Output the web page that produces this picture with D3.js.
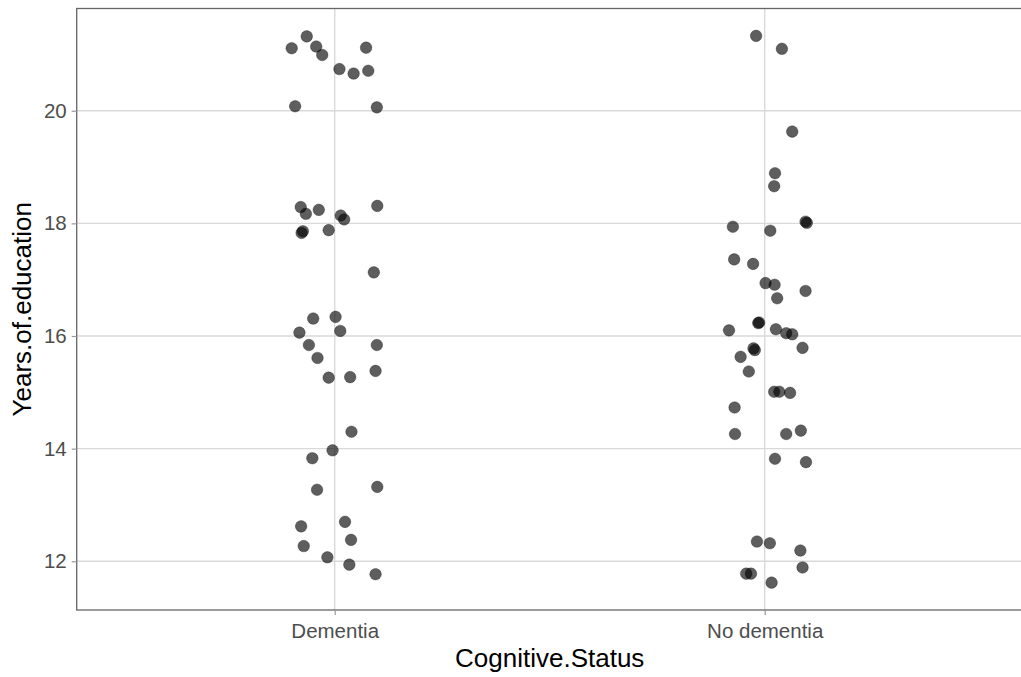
<!DOCTYPE html>
<html>
<head>
<meta charset="utf-8">
<script src="https://cdn.jsdelivr.net/npm/d3@7"></script>
<style>
  body { margin: 0; background: #fff; }
  svg { display: block; font-family: "Liberation Sans", Arial, sans-serif; }
</style>
</head>
<body>
<div id="chart"></div>
<script>
const categories = ["Dementia", "No dementia"];

// years of education as plotted (already jittered), and horizontal jitter in category units
const dementiaYears = [
  21.11, 21.32, 21.14, 20.99, 21.12, 20.74, 20.66, 20.71, 20.08, 20.06,
  18.29, 18.17, 18.24, 18.14, 18.07, 17.83, 17.86, 17.88, 18.31, 17.13,
  16.31, 16.34, 16.06, 16.09, 15.84, 15.84, 15.61, 15.38, 15.26, 15.27,
  14.30, 13.97, 13.83, 13.27, 13.32, 12.62, 12.70, 12.38, 12.27, 12.07,
  11.94, 11.77
];
const dementiaJitter = [
  -0.100, -0.065, -0.043, -0.029, 0.073, 0.011, 0.044, 0.078, -0.092, 0.098,
  -0.079, -0.067, -0.037, 0.014, 0.022, -0.077, -0.074, -0.014, 0.099, 0.091,
  -0.050, 0.002, -0.082, 0.013, -0.060, 0.098, -0.040, 0.095, -0.014, 0.036,
  0.039, -0.005, -0.052, -0.041, 0.099, -0.078, 0.024, 0.038, -0.072, -0.017,
  0.034, 0.095
];
const noDementiaYears = [
  21.33, 21.10, 19.63, 18.89, 18.66, 18.03, 18.01, 17.94, 17.87, 17.36,
  17.28, 16.94, 16.91, 16.80, 16.67, 16.23, 16.24, 16.10, 16.12, 16.05,
  16.03, 15.75, 15.78, 15.63, 15.79, 15.37, 15.01, 15.01, 14.99, 14.73,
  14.26, 14.26, 14.32, 13.82, 13.76, 12.35, 12.32, 12.19, 11.89, 11.78,
  11.78, 11.62
];
const noDementiaJitter = [
  -0.020, 0.040, 0.064, 0.024, 0.022, 0.095, 0.098, -0.074, 0.013, -0.071,
  -0.027, 0.002, 0.023, 0.095, 0.029, -0.015, -0.013, -0.083, 0.026, 0.050,
  0.064, -0.023, -0.026, -0.056, 0.088, -0.037, 0.022, 0.034, 0.059, -0.070,
  -0.069, 0.050, 0.084, 0.024, 0.096, -0.018, 0.012, 0.083, 0.088, -0.043,
  -0.032, 0.016
];
const yTicks = [12, 14, 16, 18, 20];

const width = 1021, height = 677;
const panel = { left: 76.7, right: 1022.7, top: 8.5, bottom: 610 };

const points = [
  ...dementiaYears.map((v, i) => ({ cat: categories[0], y: v, jit: dementiaJitter[i] })),
  ...noDementiaYears.map((v, i) => ({ cat: categories[1], y: v, jit: noDementiaJitter[i] }))
];

const svg = d3.select("#chart").append("svg")
  .attr("width", width)
  .attr("height", height);

const x = d3.scalePoint()
  .domain(categories)
  .range([panel.left, panel.right])
  .padding(0.6);

// ggplot style 5% expansion
const ext = d3.extent(points, d => d.y);
const pad = (ext[1] - ext[0]) * 0.05;
const y = d3.scaleLinear()
  .domain([ext[0] - pad, ext[1] + pad])
  .range([panel.bottom, panel.top]);

// grid
const grid = svg.append("g");
grid.selectAll(".hgrid")
  .data(yTicks)
  .join("line")
  .attr("x1", panel.left).attr("x2", panel.right)
  .attr("y1", d => y(d)).attr("y2", d => y(d))
  .attr("stroke", "#d9d9d9")
  .attr("stroke-width", 1.4);
grid.selectAll(".vgrid")
  .data(categories)
  .join("line")
  .attr("x1", d => x(d)).attr("x2", d => x(d))
  .attr("y1", panel.top).attr("y2", panel.bottom)
  .attr("stroke", "#d9d9d9")
  .attr("stroke-width", 1.4);

// points
svg.append("g")
  .selectAll("circle")
  .data(points)
  .join("circle")
  .attr("cx", d => x(d.cat) + d.jit * x.step())
  .attr("cy", d => y(d.y))
  .attr("r", 5.8)
  .attr("fill", "#000")
  .attr("fill-opacity", 0.63)
  .attr("stroke", "#000")
  .attr("stroke-opacity", 0.3)
  .attr("stroke-width", 1);

// panel border
svg.append("rect")
  .attr("x", panel.left).attr("y", panel.top)
  .attr("width", panel.right - panel.left)
  .attr("height", panel.bottom - panel.top)
  .attr("fill", "none")
  .attr("stroke", "#666")
  .attr("stroke-width", 1.3);

// axes
const yAxis = svg.append("g")
  .attr("transform", `translate(${panel.left},0)`)
  .call(d3.axisLeft(y).tickValues(yTicks).tickSize(5).tickPadding(5));
const xAxis = svg.append("g")
  .attr("transform", `translate(0,${panel.bottom})`)
  .call(d3.axisBottom(x).tickSize(5).tickPadding(8));

[yAxis, xAxis].forEach(g => {
  g.select(".domain").remove();
  g.selectAll(".tick line").attr("stroke", "#999").attr("stroke-width", 1.2);
  g.selectAll(".tick text")
    .attr("fill", "#4d4d4d")
    .style("font-size", "20.5px")
    .style("font-family", "'Liberation Sans', Arial, sans-serif");
});

// axis titles
svg.append("text")
  .attr("x", (panel.left + panel.right) / 2)
  .attr("y", 667)
  .attr("text-anchor", "middle")
  .style("font-size", "26px")
  .attr("fill", "#000")
  .text("Cognitive.Status");

svg.append("text")
  .attr("transform", `translate(31,${(panel.top + panel.bottom) / 2}) rotate(-90)`)
  .attr("text-anchor", "middle")
  .style("font-size", "26px")
  .attr("fill", "#000")
  .text("Years.of.education");
</script>
</body>
</html>
